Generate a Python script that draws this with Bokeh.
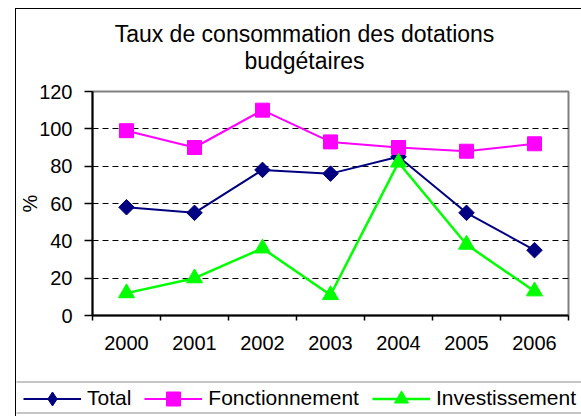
import math
from bokeh.plotting import figure
from bokeh.layouts import column
from bokeh.models import (Range1d, FixedTicker, Legend, LegendItem, Label,
                          BoxAnnotation)
from bokeh.embed import file_html
from bokeh.resources import INLINE

# ---- data ----
years = ["2000", "2001", "2002", "2003", "2004", "2005", "2006"]
total = [58, 55, 78, 76, 85, 55, 35]
fonctionnement = [99, 90, 110, 93, 90, 88, 92]
investissement = [12, 20, 36, 11, 82, 38, 13]
y_ticks = [0, 20, 40, 60, 80, 100, 120]
title_lines = ["Taux de consommation des dotations", "budgétaires"]
y_label = "%"
series_names = ["Total", "Fonctionnement", "Investissement"]

FONT = "Liberation Sans"
W = 565
x = [i + 0.5 for i in range(len(years))]
c_tot, c_fon, c_inv = "#000080", "#FF00FF", "#00FF00"


def strip(height):
    f = figure(width=W, height=height, output_backend="svg",
               toolbar_location=None, x_range=Range1d(0, len(years)),
               y_range=Range1d(-2, -1), x_axis_location=None,
               y_axis_location=None, min_border=0, outline_line_color=None,
               background_fill_color="white", border_fill_color="white")
    f.frame_align = False
    f.grid.visible = False
    return f


# ---- title strip ----
t = strip(66)
for line, yb in zip(title_lines, [41.3, 14.7]):
    t.add_layout(Label(x=288, y=yb, x_units="screen", y_units="screen",
                       text=line, text_align="center",
                       text_baseline="alphabetic", text_font=FONT,
                       text_font_size="23px", text_color="black"))

# ---- main chart ----
p = figure(width=W, height=303, output_backend="svg", toolbar_location=None,
           x_range=Range1d(0, len(years)), y_range=Range1d(0, 120),
           min_border_left=75, min_border_right=13, min_border_top=16,
           min_border_bottom=63, background_fill_color="white",
           border_fill_color="white")
p.frame_align = False
p.outline_line_color = "#808080"
p.outline_line_width = 2

xa = p.xaxis[0]
xa.ticker = FixedTicker(ticks=x, minor_ticks=list(range(len(years) + 1)))
xa.major_label_overrides = {xi: yr for xi, yr in zip(x, years)}
xa.major_tick_line_color = None
xa.major_tick_out = 0
xa.major_tick_in = 0
xa.minor_tick_out = 5
xa.minor_tick_in = 0
xa.minor_tick_line_color = "black"
xa.minor_tick_line_width = 1.5
xa.axis_line_color = "black"
xa.axis_line_width = 2
xa.major_label_standoff = 15
xa.major_label_text_font = FONT
xa.major_label_text_font_size = "20px"
xa.major_label_text_color = "black"

ya = p.yaxis[0]
ya.ticker = FixedTicker(ticks=y_ticks)
ya.minor_tick_line_color = None
ya.major_tick_out = 8
ya.major_tick_in = 0
ya.major_tick_line_color = "black"
ya.major_tick_line_width = 1.5
ya.axis_line_color = "black"
ya.axis_line_width = 2
ya.major_label_standoff = 12
ya.major_label_text_font = FONT
ya.major_label_text_font_size = "20px"
ya.major_label_text_color = "black"
ya.axis_label = y_label
ya.axis_label_text_font = FONT
ya.axis_label_text_font_size = "20px"
ya.axis_label_text_font_style = "normal"
ya.axis_label_text_color = "black"
ya.axis_label_standoff = -5

p.xgrid.visible = False
p.ygrid.ticker = FixedTicker(ticks=y_ticks[1:-1])
p.ygrid.grid_line_color = "black"
p.ygrid.grid_line_dash = "6 4"
p.ygrid.grid_line_width = 1

series = [(total, "square", math.pi / 4, 11, c_tot, 2),
          (fonctionnement, "square", 0, 14, c_fon, 2),
          (investissement, "triangle", 0, 16, c_inv, 2.5)]
for vals, mk, ang, sz, col, lw in series:
    p.line(x, vals, line_color=col, line_width=lw)
    p.scatter(x, vals, marker=mk, angle=ang, size=sz,
              fill_color=col, line_color=col)

# ---- legend strip: its copies of the series lie outside its value range,
# only the legend entries show ----
q = strip(38)
legend_markers = ["diamond", "square", "triangle"]
items = []
for name, mk, (vals, _, _, _, col, lw) in zip(series_names, legend_markers,
                                               series):
    rl = q.line(x, vals, line_color=col, line_width=lw)
    rm = q.scatter(x, vals, marker=mk, size=14, fill_color=col,
                   line_color=col)
    items.append(LegendItem(label=name, renderers=[rl, rm]))

legend = Legend(items=items, location=(7, 0.5), orientation="horizontal",
                border_line_color=None, background_fill_alpha=0,
                padding=0, glyph_width=58, glyph_height=35, label_height=20,
                label_standoff=6, spacing=13, margin=0,
                label_text_font=FONT, label_text_font_size="21px",
                label_text_color="black")
q.add_layout(legend)

q.add_layout(BoxAnnotation(left=-10, right=800, top=3.5, bottom=34.5,
                           left_units="canvas", right_units="canvas",
                           top_units="canvas", bottom_units="canvas",
                           fill_alpha=0, line_color="black", line_width=1.5))

layout = column(t, p, q, spacing=0,
                styles={"margin-left": "15px", "margin-top": "8px",
                        "border-left": "1px solid black",
                        "border-top": "1px solid black"})

open("out.html", "w").write(file_html(layout, INLINE))
